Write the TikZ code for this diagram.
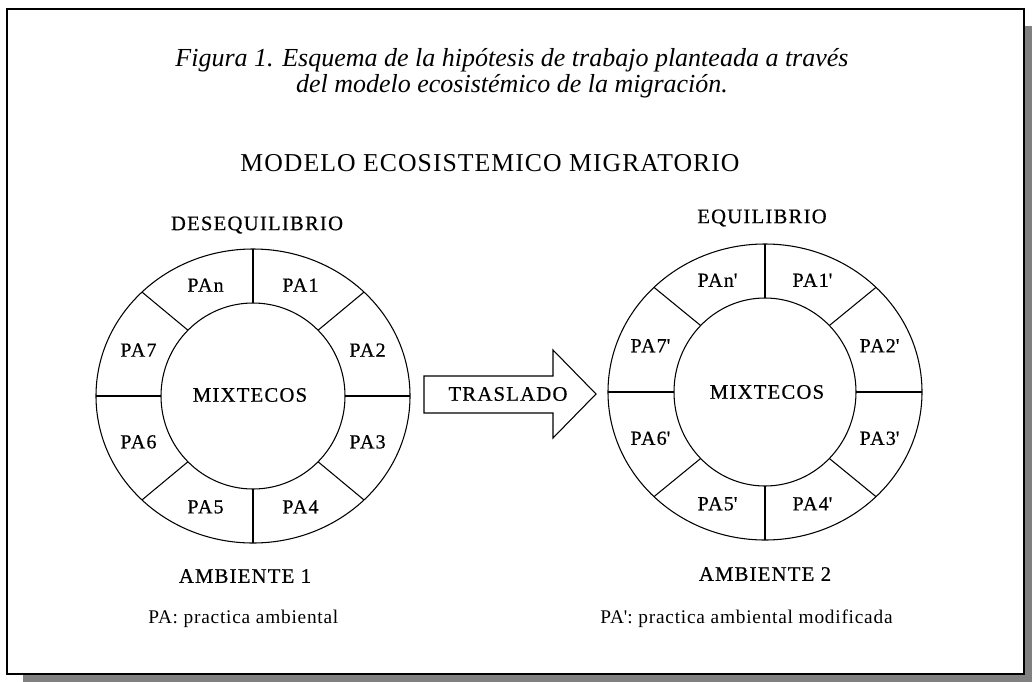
\documentclass[tikz,border=0pt]{standalone}
\usepackage{fontspec}
\setmainfont{Liberation Serif}
\newfontfamily\diagfont[LetterSpace=6, FakeBold=0.6]{Liberation Serif}
\newfontfamily\notafont[LetterSpace=4]{Liberation Serif}
\usetikzlibrary{calc,positioning}
\tikzstyle{ring} = [draw, line width=0.8pt]
\tikzstyle{pa} = [font=\diagfont\fontsize{15}{17}\selectfont, inner sep=0pt]
\tikzstyle{rotulo} = [font=\diagfont\fontsize{15.5}{17}\selectfont, inner sep=0pt]
\tikzstyle{nota} = [font=\notafont\fontsize{14.5}{16}\selectfont, inner sep=0pt, anchor=west]

\begin{document}
\begin{tikzpicture}[x=0.75pt, y=-0.75pt]

\useasboundingbox (0,0) rectangle (1032,682);
\fill [black!50] (23,26) rectangle (1032,682);
\draw [fill=white, line width=1.5pt] (7,9) rectangle (1024,674);

\node (caption) [font=\fontsize{19.5}{19.5}\selectfont\itshape, align=center] at (512,73)
  {Figura 1. Esquema de la hipótesis de trabajo planteada a través\\del modelo ecosistémico de la migración.};

\node (titulo) [font=\notafont\fontsize{19.3}{21}\selectfont, inner sep=0pt] at (490,163) {MODELO ECOSISTEMICO MIGRATORIO};

% ambiente 1
\begin{scope}[shift={(253,396)}, y=0.75pt]
\draw [ring] (0,0) ellipse [x radius=157, y radius=147];
\draw [ring] (0,0) ellipse [x radius=92, y radius=93];
\foreach \a in {0,45,...,315}
  \draw [ring] (\a:92 and 93) -- (\a:157 and 147);
\foreach \t/\a in {1/67.5, 2/22.5, 3/-22.5, 4/-67.5, 5/-112.5, 6/-157.5, 7/157.5, n/112.5}
  \node (izq\t) [pa] at (\a:124 and 120) {PA\t};
\node (izqcentro) [rotulo] at (-3,1) {MIXTECOS};
\end{scope}

\node (deseq) [rotulo] at (257,225) {DESEQUILIBRIO};
\node (amb1) [rotulo] at (245,576) {AMBIENTE 1};

% ambiente 2
\begin{scope}[shift={(765,392)}, y=0.75pt]
\draw [ring] (0,0) ellipse [x radius=157, y radius=148];
\draw [ring] (0,0) ellipse [x radius=91, y radius=94];
\foreach \a in {0,45,...,315}
  \draw [ring] (\a:91 and 94) -- (\a:157 and 148);
\foreach \t/\a in {1/67.5, 2/22.5, 3/-22.5, 4/-67.5, 5/-112.5, 6/-157.5, 7/157.5, n/112.5}
  \node (der\t) [pa] at (\a:124 and 121) {PA\t\textquotesingle};
\node (dercentro) [rotulo] at (2,0) {MIXTECOS};
\end{scope}

\node (equil) [rotulo] at (762,218) {EQUILIBRIO};
\node (amb2) [rotulo] at (765,574) {AMBIENTE 2};

% flecha
\draw [ring, fill=white] (424,376) -- (553,376) -- (553,350) -- (596,394)
  -- (553,438) -- (553,413) -- (424,413) -- cycle;
\node (traslado) [rotulo] at (508,394) {TRASLADO};

\node (nota1) [nota] at (148,619) {PA: practica ambiental};
\node (nota2) [nota] at (600,619) {PA\textquotesingle: practica ambiental modificada};

\end{tikzpicture}
\end{document}
